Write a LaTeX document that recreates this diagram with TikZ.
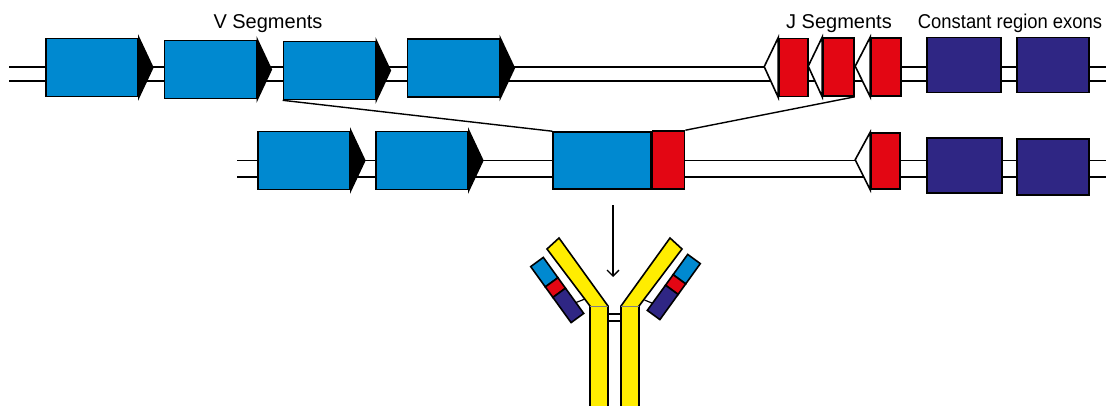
\documentclass[tikz,border=0pt]{standalone}
\usepackage{fontspec}
\setmainfont{Liberation Sans}
\usetikzlibrary{calc,arrows.meta}
\definecolor{vblue}{RGB}{0,137,208}
\definecolor{jred}{RGB}{227,6,19}
\definecolor{cnavy}{RGB}{47,38,132}
\definecolor{hyellow}{RGB}{255,237,0}
\begin{document}
\begin{tikzpicture}[x=1pt,y=-1pt,line width=1.6pt,
    vseg/.style={draw,fill=vblue,inner sep=0pt,minimum width=92pt,minimum height=58pt},
    jseg/.style={draw,fill=jred,inner sep=0pt,minimum width=30pt,minimum height=58pt},
    cseg/.style={draw,fill=cnavy,inner sep=0pt,minimum width=73pt,minimum height=55pt},
    dna/.style={line width=1.5pt},
    lbl/.style={font=\fontsize{20}{24}\selectfont,anchor=base}]
    \useasboundingbox (0,0) rectangle (1106,405);
    \draw[dna] (9,67) -- (1106,67);
    \draw[dna] (9,81) -- (1106,81);
    \draw[dna] (237,160.5) -- (1106,160.5);
    \draw[dna] (237,177) -- (1106,177);
    \node[lbl] (vlab) at (268,28) {V Segments};
    \node[lbl] (jlab) at (839,28) {J Segments};
    \node[lbl] (clab) at (1010,28) {\scalebox{0.92}[1]{Constant region exons}};
    \node[vseg] (v1) at (92,67.5) {};
    \node[vseg] (v2) at (210.5,69.5) {};
    \node[vseg] (v3) at (329.5,70.5) {};
    \node[vseg] (v4) at (453.5,68) {};
    \filldraw (v1.north east) -- ($(v1.east)+(14,0)$) -- (v1.south east) -- cycle;
    \filldraw (v2.north east) -- ($(v2.east)+(14,0)$) -- (v2.south east) -- cycle;
    \filldraw (v3.north east) -- ($(v3.east)+(14,0)$) -- (v3.south east) -- cycle;
    \filldraw (v4.north east) -- ($(v4.east)+(14,0)$) -- (v4.south east) -- cycle;
    \node[jseg,minimum width=29pt] (j1) at (793.5,67.5) {};
    \node[jseg,minimum width=31pt] (j2) at (838.5,67) {};
    \node[jseg] (j3) at (886,67) {};
    \draw[fill=white] (j1.north west) -- ($(j1.north west)+(-14,29)$) -- (j1.south west) -- cycle;
    \draw[fill=white] (j2.north west) -- ($(j2.north west)+(-14,29)$) -- (j2.south west) -- cycle;
    \draw[fill=white] (j3.north west) -- ($(j3.north west)+(-15,29)$) -- (j3.south west) -- cycle;
    \node[cseg,minimum width=74pt] (c1) at (964,65) {};
    \node[cseg,minimum width=72pt] (c2) at (1053,65) {};
    \node[vseg] (m1) at (304,160.5) {};
    \node[vseg] (m2) at (422,160.5) {};
    \filldraw (m1.north east) -- ($(m1.east)+(14,0)$) -- (m1.south east) -- cycle;
    \filldraw (m2.north east) -- ($(m2.east)+(14,0)$) -- (m2.south east) -- cycle;
    \node[vseg,minimum width=98pt,minimum height=57pt] (vj) at (602,160.5) {};
    \node[jseg,minimum width=32pt,anchor=south west] (vjr) at (vj.south east) {};
    \node[jseg,minimum width=29pt,minimum height=56pt] (mj) at (885.5,161) {};
    \draw[fill=white] (mj.north west) -- ($(mj.north west)+(-15,27.5)$) -- (mj.south west) -- cycle;
    \node[cseg,minimum width=75pt] (mc1) at (964.5,165.5) {};
    \node[cseg,minimum width=72pt,minimum height=56pt] (mc2) at (1053,167) {};
    \draw[line width=1.4pt] (v3.south west) -- (vj.north west);
    \draw[line width=1.4pt] (j2.south east) -- (vjr.north east);
    \coordinate (arrtop) at (613,205);
    \coordinate (arrbot) at (613,277);
    \draw[line width=1.3pt,-{Straight Barb[length=6pt,width=12pt]}] (arrtop) -- (arrbot);
    \filldraw[fill=hyellow] (590,410) -- (590,306) -- (547,249) -- (559,238) -- (608,306) -- (608,410);
    \filldraw[fill=hyellow] (639,410) -- (639,306) -- (682,249) -- (670,238) -- (621,306) -- (621,410);
    \draw[gray,line width=0.6pt] (590,306) -- (608,306);
    \draw[gray,line width=0.6pt] (621,306) -- (639,306);
    \draw[line width=1.3pt] (608,314) -- (621,314);
    \draw[line width=1.3pt] (608,321) -- (621,321);
    \filldraw[fill=vblue] (530.7,266.6) -- (543.3,257.4) -- (557.9,277.7) -- (545.3,286.9) -- cycle;
    \filldraw[fill=jred] (545.3,286.9) -- (557.9,277.7) -- (565.5,288.2) -- (552.9,297.4) -- cycle;
    \filldraw[fill=cnavy] (552.9,297.4) -- (565.5,288.2) -- (583.7,313.4) -- (571.1,322.6) -- cycle;
    \draw[line width=1.2pt] (576,302.5) -- (585,299);
    \filldraw[fill=vblue] (700.3,263.6) -- (687.7,254.4) -- (673.1,274.7) -- (685.7,283.9) -- cycle;
    \filldraw[fill=jred] (685.7,283.9) -- (673.1,274.7) -- (665.5,285.2) -- (678.1,294.4) -- cycle;
    \filldraw[fill=cnavy] (678.1,294.4) -- (665.5,285.2) -- (647.3,310.4) -- (659.9,319.6) -- cycle;
    \draw[line width=1.2pt] (644.5,300) -- (653,303.5);
\end{tikzpicture}
\end{document}
